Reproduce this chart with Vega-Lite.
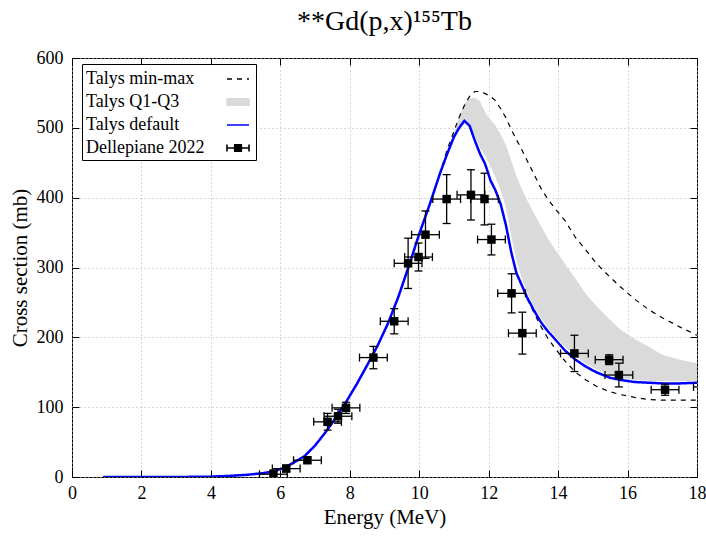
{
  "$schema": "https://vega.github.io/schema/vega-lite/v6.json",
  "width": 625,
  "height": 419,
  "autosize": {"type": "none"},
  "padding": {"left": 72, "top": 58, "right": 9, "bottom": 64},
  "background": "white",
  "title": {"text": "**Gd(p,x)¹⁵⁵Tb", "font": "Liberation Serif", "fontSize": 28, "fontWeight": "normal", "color": "black", "anchor": "middle", "offset": 13},
  "config": {
    "view": {"stroke": "black", "strokeWidth": 1},
    "axis": {
      "labelFont": "Liberation Serif", "labelFontSize": 18, "labelColor": "black",
      "titleFont": "Liberation Serif", "titleFontSize": 21, "titleFontWeight": "normal", "titleColor": "black",
      "domain": false, "tickColor": "black", "tickSize": -7, "tickWidth": 1,
      "gridColor": "#b0b0b0", "gridDash": [1, 3], "gridWidth": 1,
      "labelFlush": false, "labelOverlap": false
    },
    "legend": {
      "labelFont": "Liberation Serif", "labelFontSize": 18, "labelColor": "black", "labelLimit": 400,
      "strokeColor": "black", "fillColor": "white", "padding": 3, "rowPadding": 2, "symbolSize": 484,
      "symbolStrokeWidth": 1.6, "cornerRadius": 0, "labelOffset": -164, "symbolOffset": 141, "labelAlign": "left"
    }
  },
  "datasets": {
    "talys": [
      {"E": 0.9, "def": 0, "mn": 0, "mx": 0, "q1": 0, "q3": 0},
      {"E": 2, "def": 0, "mn": 0, "mx": 0, "q1": 0, "q3": 0},
      {"E": 3, "def": 0, "mn": 0, "mx": 0, "q1": 0, "q3": 0},
      {"E": 4, "def": 0.5, "mn": 0.5, "mx": 0.5, "q1": 0.5, "q3": 0.5},
      {"E": 4.5, "def": 1.5, "mn": 1.5, "mx": 1.5, "q1": 1.5, "q3": 1.5},
      {"E": 5, "def": 3, "mn": 3, "mx": 3, "q1": 3, "q3": 3},
      {"E": 5.5, "def": 5.5, "mn": 5.5, "mx": 5.5, "q1": 5.5, "q3": 5.5},
      {"E": 5.8, "def": 8, "mn": 8, "mx": 8, "q1": 8, "q3": 8},
      {"E": 6.1, "def": 13, "mn": 13, "mx": 13, "q1": 13, "q3": 13},
      {"E": 6.4, "def": 21, "mn": 21, "mx": 21, "q1": 21, "q3": 21},
      {"E": 6.7, "def": 30, "mn": 30, "mx": 30, "q1": 30, "q3": 30},
      {"E": 7.0, "def": 45, "mn": 45, "mx": 45, "q1": 45, "q3": 45},
      {"E": 7.3, "def": 64, "mn": 64, "mx": 64, "q1": 64, "q3": 64},
      {"E": 7.6, "def": 85, "mn": 85, "mx": 85, "q1": 85, "q3": 85},
      {"E": 7.9, "def": 108, "mn": 108, "mx": 108, "q1": 108, "q3": 108},
      {"E": 8.2, "def": 133, "mn": 133, "mx": 133, "q1": 133, "q3": 133},
      {"E": 8.5, "def": 160, "mn": 160, "mx": 160, "q1": 160, "q3": 160},
      {"E": 8.8, "def": 188, "mn": 188, "mx": 188, "q1": 188, "q3": 188},
      {"E": 9.1, "def": 220, "mn": 220, "mx": 220, "q1": 220, "q3": 220},
      {"E": 9.4, "def": 258, "mn": 258, "mx": 258, "q1": 258, "q3": 258},
      {"E": 9.7, "def": 302, "mn": 302, "mx": 302, "q1": 302, "q3": 302},
      {"E": 10.0, "def": 348, "mn": 348, "mx": 348, "q1": 348, "q3": 348},
      {"E": 10.3, "def": 390, "mn": 390, "mx": 390, "q1": 390, "q3": 390},
      {"E": 10.6, "def": 435, "mn": 435, "mx": 435, "q1": 435, "q3": 435},
      {"E": 10.8, "def": 462, "mn": 462, "mx": 468, "q1": 462, "q3": 465},
      {"E": 11.0, "def": 487, "mn": 487, "mx": 495, "q1": 487, "q3": 492},
      {"E": 11.15, "def": 500, "mn": 500, "mx": 515, "q1": 500, "q3": 515},
      {"E": 11.3, "def": 510, "mn": 510, "mx": 532, "q1": 510, "q3": 535},
      {"E": 11.45, "def": 503, "mn": 503, "mx": 545, "q1": 505, "q3": 542},
      {"E": 11.6, "def": 482, "mn": 482, "mx": 552, "q1": 488, "q3": 543},
      {"E": 11.75, "def": 463, "mn": 463, "mx": 552, "q1": 472, "q3": 538},
      {"E": 11.9, "def": 448, "mn": 448, "mx": 549, "q1": 460, "q3": 522},
      {"E": 12.05, "def": 425, "mn": 425, "mx": 545, "q1": 445, "q3": 512},
      {"E": 12.2, "def": 410, "mn": 410, "mx": 539, "q1": 428, "q3": 503},
      {"E": 12.35, "def": 390, "mn": 390, "mx": 527, "q1": 410, "q3": 490},
      {"E": 12.5, "def": 360, "mn": 360, "mx": 514, "q1": 385, "q3": 475},
      {"E": 12.65, "def": 322, "mn": 322, "mx": 498, "q1": 345, "q3": 453},
      {"E": 12.8, "def": 292, "mn": 292, "mx": 483, "q1": 310, "q3": 431},
      {"E": 12.95, "def": 275, "mn": 274, "mx": 469, "q1": 285, "q3": 413},
      {"E": 13.1, "def": 258, "mn": 256, "mx": 454, "q1": 265, "q3": 397},
      {"E": 13.3, "def": 239, "mn": 236, "mx": 434, "q1": 245, "q3": 378},
      {"E": 13.5, "def": 222, "mn": 216, "mx": 414, "q1": 228, "q3": 360},
      {"E": 13.7, "def": 209, "mn": 199, "mx": 398, "q1": 214, "q3": 342},
      {"E": 13.9, "def": 198, "mn": 185, "mx": 385, "q1": 202, "q3": 327},
      {"E": 14.2, "def": 181, "mn": 166, "mx": 367, "q1": 186, "q3": 305},
      {"E": 14.5, "def": 168, "mn": 150, "mx": 343, "q1": 173, "q3": 284},
      {"E": 14.8, "def": 158, "mn": 139, "mx": 325, "q1": 162, "q3": 262},
      {"E": 15.1, "def": 150, "mn": 130, "mx": 306, "q1": 154, "q3": 245},
      {"E": 15.5, "def": 142, "mn": 122, "mx": 286, "q1": 146, "q3": 225},
      {"E": 15.8, "def": 139, "mn": 118, "mx": 272, "q1": 142, "q3": 211},
      {"E": 16.2, "def": 136, "mn": 114, "mx": 255, "q1": 139, "q3": 198},
      {"E": 16.6, "def": 135, "mn": 111, "mx": 240, "q1": 138, "q3": 187},
      {"E": 17.0, "def": 134, "mn": 110, "mx": 228, "q1": 137, "q3": 175},
      {"E": 17.5, "def": 134, "mn": 110, "mx": 215, "q1": 137, "q3": 168},
      {"E": 18.0, "def": 135, "mn": 110, "mx": 203, "q1": 138, "q3": 163}
    ],
    "exp": [
      {"E": 5.80, "s": 4, "Elo": 5.40, "Ehi": 6.20, "slo": 0, "shi": 10},
      {"E": 6.17, "s": 12, "Elo": 5.77, "Ehi": 6.57, "slo": 8, "shi": 17},
      {"E": 6.78, "s": 24, "Elo": 6.38, "Ehi": 7.18, "slo": 20, "shi": 28},
      {"E": 7.36, "s": 79, "Elo": 6.96, "Ehi": 7.76, "slo": 67, "shi": 91},
      {"E": 7.66, "s": 87, "Elo": 7.26, "Ehi": 8.06, "slo": 77, "shi": 97},
      {"E": 7.89, "s": 99, "Elo": 7.49, "Ehi": 8.29, "slo": 91, "shi": 107},
      {"E": 8.68, "s": 171, "Elo": 8.28, "Ehi": 9.08, "slo": 155, "shi": 187},
      {"E": 9.28, "s": 223, "Elo": 8.88, "Ehi": 9.68, "slo": 205, "shi": 241},
      {"E": 9.68, "s": 306, "Elo": 9.28, "Ehi": 10.08, "slo": 270, "shi": 342},
      {"E": 9.98, "s": 315, "Elo": 9.58, "Ehi": 10.38, "slo": 295, "shi": 335},
      {"E": 10.18, "s": 347, "Elo": 9.78, "Ehi": 10.58, "slo": 313, "shi": 381},
      {"E": 10.79, "s": 398, "Elo": 10.39, "Ehi": 11.19, "slo": 363, "shi": 433},
      {"E": 11.49, "s": 404, "Elo": 11.09, "Ehi": 11.89, "slo": 368, "shi": 440},
      {"E": 11.88, "s": 398, "Elo": 11.48, "Ehi": 12.28, "slo": 361, "shi": 435},
      {"E": 12.08, "s": 340, "Elo": 11.68, "Ehi": 12.48, "slo": 318, "shi": 362},
      {"E": 12.66, "s": 263, "Elo": 12.26, "Ehi": 13.06, "slo": 235, "shi": 291},
      {"E": 12.97, "s": 206, "Elo": 12.57, "Ehi": 13.37, "slo": 176, "shi": 236},
      {"E": 14.47, "s": 177, "Elo": 14.07, "Ehi": 14.87, "slo": 151, "shi": 203},
      {"E": 15.47, "s": 168, "Elo": 15.07, "Ehi": 15.87, "slo": 161, "shi": 175},
      {"E": 15.75, "s": 146, "Elo": 15.35, "Ehi": 16.15, "slo": 129, "shi": 163},
      {"E": 17.08, "s": 125, "Elo": 16.68, "Ehi": 17.48, "slo": 117, "shi": 133},
      {"E": 18.3, "s": 129, "Elo": 17.9, "Ehi": 18.7, "slo": 120, "shi": 138}
    ]
  },
  "layer": [
    {
      "layer": [
        {
          "data": {"name": "talys"},
          "mark": {"type": "area", "clip": true, "opacity": 1},
          "encoding": {
            "x": {"field": "E", "type": "quantitative", "scale": {"domain": [0, 18], "nice": false},
                  "axis": {"title": "Energy (MeV)", "values": [0, 2, 4, 6, 8, 10, 12, 14, 16, 18], "labelPadding": 14, "titlePadding": 4}},
            "y": {"field": "q1", "type": "quantitative", "scale": {"domain": [0, 600], "nice": false},
                  "axis": {"title": "Cross section (mb)", "values": [0, 100, 200, 300, 400, 500, 600], "labelPadding": 16, "titlePadding": 6}},
            "y2": {"field": "q3"},
            "color": {"datum": "Talys Q1-Q3", "type": "nominal",
              "scale": {"domain": ["Talys min-max", "Talys Q1-Q3", "Talys default", "Dellepiane 2022"], "range": ["black", "#dadada", "#0000ff", "black"]},
              "legend": {"title": null, "orient": "none", "legendX": 10, "legendY": 6}
            }
          }
        },
        {
          "data": {"name": "talys"},
          "mark": {"type": "line", "clip": true, "strokeWidth": 1.2},
          "encoding": {
            "x": {"field": "E", "type": "quantitative"},
            "y": {"field": "mx", "type": "quantitative"},
            "color": {"datum": "Talys min-max", "type": "nominal"},
            "strokeDash": {"datum": "Talys min-max", "type": "nominal",
              "scale": {"domain": ["Talys min-max", "Talys Q1-Q3", "Talys default", "Dellepiane 2022"], "range": [[5, 5], [1, 0], [1, 0], [1, 0]]},
              "legend": {"title": null, "orient": "none", "legendX": 10, "legendY": 6}
            }
          }
        },
        {
          "data": {"name": "talys"},
          "mark": {"type": "line", "clip": true, "strokeWidth": 1.2},
          "encoding": {
            "x": {"field": "E", "type": "quantitative"},
            "y": {"field": "mn", "type": "quantitative"},
            "color": {"datum": "Talys min-max", "type": "nominal"},
            "strokeDash": {"datum": "Talys min-max", "type": "nominal"}
          }
        },
        {
          "data": {"name": "talys"},
          "mark": {"type": "line", "clip": true, "strokeWidth": 2.5},
          "encoding": {
            "x": {"field": "E", "type": "quantitative"},
            "y": {"field": "def", "type": "quantitative"},
            "color": {"datum": "Talys default", "type": "nominal"},
            "strokeDash": {"datum": "Talys default", "type": "nominal"}
          }
        },
        {
          "data": {"name": "exp"},
          "mark": {"type": "rule", "clip": true, "color": "black", "strokeWidth": 1.3},
          "encoding": {
            "x": {"field": "Elo", "type": "quantitative"},
            "x2": {"field": "Ehi"},
            "y": {"field": "s", "type": "quantitative"}
          }
        },
        {
          "data": {"name": "exp"},
          "mark": {"type": "rule", "clip": true, "color": "black", "strokeWidth": 1.3},
          "encoding": {
            "x": {"field": "E", "type": "quantitative"},
            "y": {"field": "slo", "type": "quantitative"},
            "y2": {"field": "shi"}
          }
        },
        {
          "data": {"name": "exp"},
          "mark": {"type": "tick", "clip": true, "orient": "vertical", "size": 8, "thickness": 1.3, "color": "black", "opacity": 1},
          "encoding": {
            "x": {"field": "Elo", "type": "quantitative"},
            "y": {"field": "s", "type": "quantitative"}
          }
        },
        {
          "data": {"name": "exp"},
          "mark": {"type": "tick", "clip": true, "orient": "vertical", "size": 8, "thickness": 1.3, "color": "black", "opacity": 1},
          "encoding": {
            "x": {"field": "Ehi", "type": "quantitative"},
            "y": {"field": "s", "type": "quantitative"}
          }
        },
        {
          "data": {"name": "exp"},
          "mark": {"type": "tick", "clip": true, "orient": "horizontal", "size": 8, "thickness": 1.3, "color": "black", "opacity": 1},
          "encoding": {
            "x": {"field": "E", "type": "quantitative"},
            "y": {"field": "slo", "type": "quantitative"}
          }
        },
        {
          "data": {"name": "exp"},
          "mark": {"type": "tick", "clip": true, "orient": "horizontal", "size": 8, "thickness": 1.3, "color": "black", "opacity": 1},
          "encoding": {
            "x": {"field": "E", "type": "quantitative"},
            "y": {"field": "shi", "type": "quantitative"}
          }
        },
        {
          "data": {"name": "exp"},
          "mark": {"type": "point", "clip": true, "shape": "square", "filled": true, "size": 72, "opacity": 1},
          "encoding": {
            "x": {"field": "E", "type": "quantitative"},
            "y": {"field": "s", "type": "quantitative"},
            "color": {"datum": "Dellepiane 2022", "type": "nominal"}
          }
        },
        {
          "data": {"name": "exp"},
          "transform": [{"filter": "false"}],
          "mark": {"type": "point", "clip": true, "filled": true, "size": 72, "opacity": 1},
          "encoding": {
            "x": {"field": "E", "type": "quantitative"},
            "y": {"field": "s", "type": "quantitative"},
            "color": {"datum": "Dellepiane 2022", "type": "nominal"},
            "shape": {"datum": "Dellepiane 2022", "type": "nominal",
              "scale": {"domain": ["Talys min-max", "Talys Q1-Q3", "Talys default", "Dellepiane 2022"],
                        "range": ["M-1,0H1", "M-1,-0.3H1V0.3H-1Z", "M-1,0H1", "M-1,0H1M-1,-0.32V0.32M1,-0.32V0.32M-0.3,-0.3H0.3V0.3H-0.3Z"]},
              "legend": {"title": null, "orient": "none", "legendX": 10, "legendY": 6}
            }
          }
        }
      ]
    },
    {
      "data": {"name": "exp"},
      "mark": {"type": "point", "opacity": 0, "clip": true},
      "encoding": {
        "x": {"field": "E", "type": "quantitative",
              "axis": {"orient": "top", "labels": false, "title": null, "grid": false, "values": [0, 2, 4, 6, 8, 10, 12, 14, 16, 18]}},
        "y": {"field": "s", "type": "quantitative",
              "axis": {"orient": "right", "labels": false, "title": null, "grid": false, "values": [0, 100, 200, 300, 400, 500, 600]}}
      }
    }
  ],
  "resolve": {"axis": {"x": "independent", "y": "independent"}}
}
